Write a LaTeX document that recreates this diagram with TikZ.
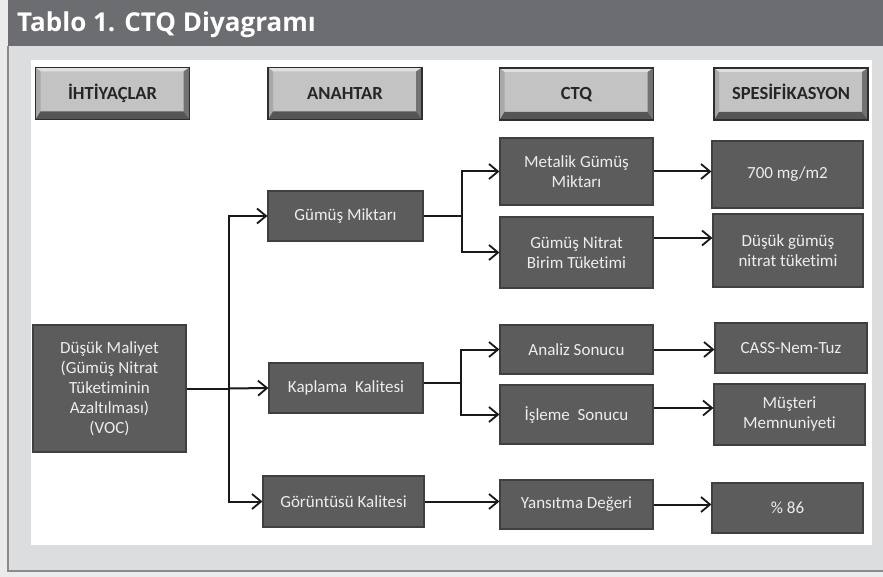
\documentclass[tikz,border=0pt]{standalone}
\usepackage{fontspec}
\setmainfont{Carlito}[Ligatures=NoCommon]
\newfontfamily\titlefont{Open Sans}
\usetikzlibrary{arrows.meta,positioning,calc}

\definecolor{barcol}{HTML}{6C6D70}
\definecolor{panelcol}{HTML}{DCDDDF}
\definecolor{paneledge}{HTML}{8A8B8D}
\definecolor{boxcol}{HTML}{5C5C5C}
\definecolor{boxedge}{HTML}{404040}
\definecolor{btnface}{HTML}{C3C3C3}
\definecolor{btnedge}{HTML}{2E2E2E}
\definecolor{btntop}{HTML}{E0E0E0}
\definecolor{btnleft}{HTML}{A8A8A8}
\definecolor{btnright}{HTML}{727272}
\definecolor{btnbottom}{HTML}{555555}

\tikzset{
  box/.style={draw=boxedge, fill=boxcol, line width=1.2pt, text=white!93!black,
    font=\fontsize{17}{20}\selectfont, align=center, inner sep=2pt},
  hdr/.style={minimum width=154, minimum height=52, fill=btnface, draw=btnedge,
    line width=1.8pt, text=black!85, font=\bfseries\fontsize{18.5}{20}\selectfont,
    text height=12pt, text depth=0pt,
    path picture={
      \coordinate (bnw) at (path picture bounding box.north west);
      \coordinate (bne) at (path picture bounding box.north east);
      \coordinate (bsw) at (path picture bounding box.south west);
      \coordinate (bse) at (path picture bounding box.south east);
      \fill[btntop] (bnw) -- (bne) -- ([shift={(-6pt,-4pt)}]bne) -- ([shift={(5pt,-4pt)}]bnw) -- cycle;
      \fill[btnleft] (bnw) -- (bsw) -- ([shift={(5pt,8pt)}]bsw) -- ([shift={(5pt,-4pt)}]bnw) -- cycle;
      \fill[btnright] (bne) -- (bse) -- ([shift={(-6pt,8pt)}]bse) -- ([shift={(-6pt,-4pt)}]bne) -- cycle;
      \fill[btnbottom] (bsw) -- (bse) -- ([shift={(-6pt,8pt)}]bse) -- ([shift={(5pt,8pt)}]bsw) -- cycle;
    }},
  link/.style={line width=2pt, draw=black!90},
  arr/.style={link, -{Straight Barb[length=9pt,width=15pt,line width=1.8pt]}}
}

\begin{document}
\begin{tikzpicture}[x=1pt,y=-1pt]
  \useasboundingbox (0,0) rectangle (883,577);

  % frame: title bar, grey panel, white sheet
  \fill[black!8] (0,0) rectangle (883,577);
  \fill[panelcol] (8,46) rectangle (883,571);
  \draw[paneledge, line width=1.5pt] (8,46) -- (8,571) -- (883,571);
  \fill[barcol] (8,0) rectangle (883,46);
  \node[anchor=base west, text=white, inner sep=0pt,
        font=\titlefont\bfseries\fontsize{26}{28}\selectfont] (title) at (17,32) {Tablo 1. CTQ Diyagramı};
  \fill[white] (31,60) rectangle (872,545);

  % column headers
  \node[hdr] (hneed) at (112.5,93.5) {İHTİYAÇLAR};
  \node[hdr] (hkey)  at (345,93.5)   {ANAHTAR};
  \node[hdr] (hctq)  at (576.5,94)   {CTQ};
  \node[hdr] (hspec) at (791,94)     {SPESİFİKASYON};

  % needs and key drivers
  \node[box, minimum width=153, minimum height=127] (need) at (109.5,388.5)
    {Düşük Maliyet\\(Gümüş Nitrat\\Tüketiminin\\Azaltılması)\\(VOC)};
  \node[box, minimum width=155, minimum height=50] (silver)  at (345.5,216) {Gümüş Miktarı};
  \node[box, minimum width=154, minimum height=50] (coat)    at (346,388)   {Kaplama~~Kalitesi};
  \node[box, minimum width=161, minimum height=51] (look)    at (343.5,501.5) {Görüntüsü Kalitesi};

  % ctq boxes
  \node[box, minimum width=153, minimum height=67] (metal)   at (576.5,171.5) {Metalik Gümüş\\Miktarı};
  \node[box, minimum width=153, minimum height=71] (nitrate) at (576.5,252.5) {Gümüş Nitrat\\Birim Tüketimi};
  \node[box, minimum width=153, minimum height=49] (test)    at (576.5,349.5) {Analiz Sonucu};
  \node[box, minimum width=153, minimum height=59] (process) at (576.5,414.5) {İşleme~~Sonucu};
  \node[box, minimum width=153, minimum height=49] (reflect) at (576.5,504.5) {Yansıtma Değeri};

  % specifications
  \node[box, minimum width=151, minimum height=67] (amount)  at (787.5,174.5) {700 mg/m2};
  \node[box, minimum width=150, minimum height=73] (lowuse)  at (788,250.5)   {Düşük gümüş\\nitrat tüketimi};
  \node[box, minimum width=152, minimum height=50] (cass)    at (791,348)     {CASS-Nem-Tuz};
  \node[box, minimum width=151, minimum height=61] (client)  at (789.5,414.5) {Müşteri\\Memnuniyeti};
  \node[box, minimum width=151, minimum height=50] (gloss)   at (787.5,508)   {\% 86};

  % needs -> key drivers
  \draw[link] (need.east) -- ++(42,0) coordinate (trunk);
  \draw[arr] (trunk) |- (silver.west);
  \draw[arr] (trunk) -- (coat.west);
  \draw[arr] (trunk) |- (look.west);

  % key drivers -> ctq
  \draw[link] (silver.east) -- ++(38,0) coordinate (sbr);
  \draw[arr] (sbr) |- (metal.west);
  \draw[arr] (sbr) |- (nitrate.west);
  \draw[link] ([yshift=5pt]coat.east) -- ++(37,0) coordinate (cbr);
  \draw[arr] (cbr) |- (test.west);
  \draw[arr] (cbr) |- (process.west);
  \draw[arr] (look.east) -- (look.east -| reflect.west);

  % ctq -> specifications
  \coordinate (n2) at ([yshift=14.5pt]nitrate.east);
  \coordinate (p2) at ([yshift=6.5pt]process.east);
  \draw[arr] (metal.east) -- (metal.east -| amount.west);
  \draw[arr] (n2) -- (n2 -| lowuse.west);
  \draw[arr] (test.east) -- (test.east -| cass.west);
  \draw[arr] (p2) -- (p2 -| client.west);
  \draw[arr] (reflect.east) -- (reflect.east -| gloss.west);
\end{tikzpicture}
\end{document}
